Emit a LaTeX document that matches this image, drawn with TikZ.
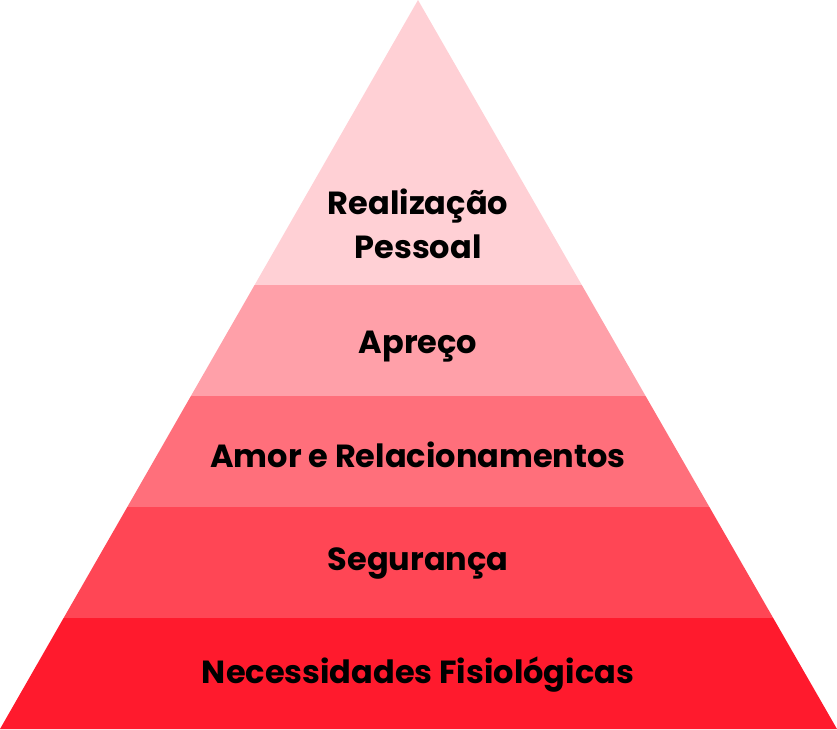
\documentclass[tikz,border=0pt]{standalone}
\usepackage{fontspec}
\setmainfont{Poppins}

\begin{document}
\begin{tikzpicture}[x=1pt,y=1pt,yscale=-1,xscale=1,
  level/.style={font=\fontsize{32}{44}\selectfont\bfseries, color={rgb, 255:red, 0; green, 0; blue, 0 }, align=center, inner sep=0pt}]
\useasboundingbox (0,0) rectangle (837,729);

%Shape: Triangle band 1 [id:top]
\fill [color={rgb, 255:red, 255; green, 208; blue, 213 }] (418,0) -- (581.8,285) -- (254.6,285) -- cycle ;
%Shape: Triangle band 2
\fill [color={rgb, 255:red, 255; green, 160; blue, 169 }] (254.6,285) -- (581.8,285) -- (645.6,396) -- (190.9,396) -- cycle ;
%Shape: Triangle band 3
\fill [color={rgb, 255:red, 255; green, 111; blue, 123 }] (190.9,396) -- (645.6,396) -- (709.4,507) -- (127.3,507) -- cycle ;
%Shape: Triangle band 4
\fill [color={rgb, 255:red, 255; green, 70; blue, 85 }] (127.3,507) -- (709.4,507) -- (773.2,618) -- (63.6,618) -- cycle ;
%Shape: Triangle band 5
\fill [color={rgb, 255:red, 255; green, 26; blue, 45 }] (63.6,618) -- (773.2,618) -- (837,729) -- (0,729) -- cycle ;

% Labels
\node [level] (realizacao) at (418,224) {Realização\\Pessoal};
\node [level] (apreco) at (418,347) {Apreço};
\node [level] (amor) at (418,455) {Amor e Relacionamentos};
\node [level] (seguranca) at (418,563) {Segurança};
\node [level] (necessidades) at (418,675) {Necessidades Fisiológicas};

\end{tikzpicture}
\end{document}
